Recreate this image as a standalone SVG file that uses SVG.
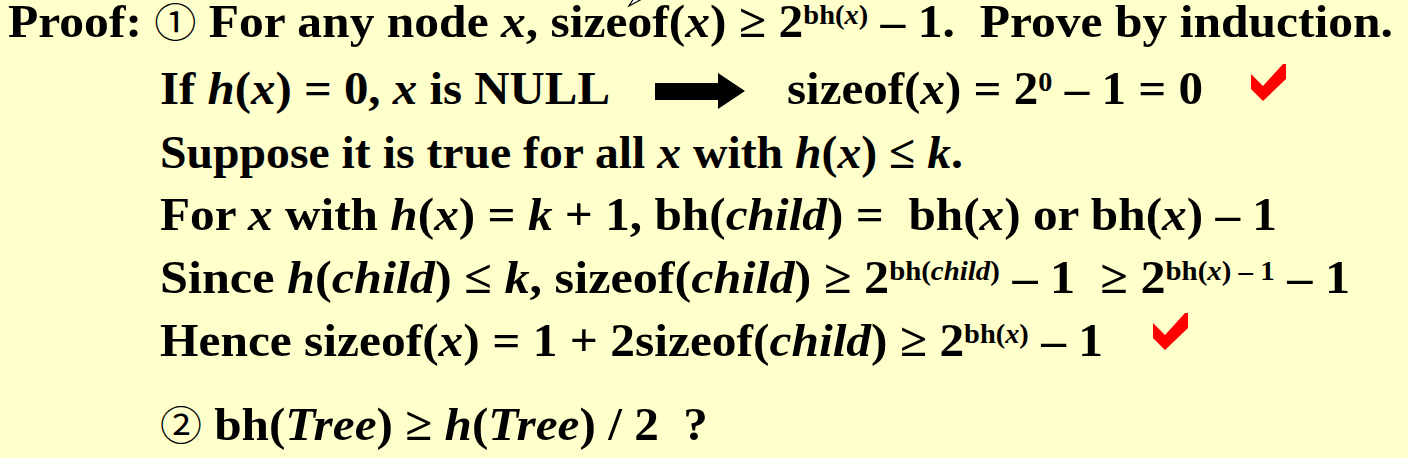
<svg xmlns="http://www.w3.org/2000/svg" width="1408" height="458" viewBox="0 0 1408 458">
<style>
text{font-family:"Liberation Serif","Times New Roman",serif;font-weight:bold;font-size:47px;fill:#000}
.i{font-style:italic}
.s{font-size:27px}
.c{font-family:"Noto Sans CJK SC","DejaVu Sans",sans-serif;font-weight:normal;font-size:40px}
.check{fill:#ff0000}
</style>
<defs>
<polygon id="chk" points="0,10 12,22 32,0 35,0 35,15 12,37 0,25"/>
</defs>
<rect width="1408" height="458" fill="#ffffcc"/>
<g id="callout-tip"><polygon points="629,6 642,-1 636,-5" fill="#fff" stroke="#000" stroke-width="1.2"/></g>
<g id="line1"><text x="8" y="37" xml:space="preserve" textLength="1385" lengthAdjust="spacingAndGlyphs">Proof: <tspan class="c">①</tspan> For any node <tspan class="i">x</tspan>, sizeof(<tspan class="i">x</tspan>) ≥ 2<tspan class="s" dy="-13">bh(<tspan class="i">x</tspan>)</tspan><tspan dy="13"> – 1.  Prove by induction.</tspan></text></g>
<g id="line2a"><text x="160" y="104" xml:space="preserve" textLength="450" lengthAdjust="spacingAndGlyphs">If <tspan class="i">h</tspan>(<tspan class="i">x</tspan>) = 0, <tspan class="i">x</tspan> is NULL</text></g>
<g id="connectors"><polygon points="655,83 718,83 718,73 745,91 718,109 718,100 655,100" fill="#000"/></g>
<g id="line2b"><text x="787" y="104" xml:space="preserve" textLength="416" lengthAdjust="spacingAndGlyphs">sizeof(<tspan class="i">x</tspan>) = 2<tspan class="s" dy="-13">0</tspan><tspan dy="13"> – 1 = 0</tspan></text></g>
<g id="check1" class="check"><use href="#chk" x="1251" y="64"/></g>
<g id="line3"><text x="160" y="168" xml:space="preserve" textLength="803" lengthAdjust="spacingAndGlyphs">Suppose it is true for all <tspan class="i">x</tspan> with <tspan class="i">h</tspan>(<tspan class="i">x</tspan>) ≤ <tspan class="i">k</tspan>.</text></g>
<g id="line4"><text x="160" y="230" xml:space="preserve" textLength="1117" lengthAdjust="spacingAndGlyphs">For <tspan class="i">x</tspan> with <tspan class="i">h</tspan>(<tspan class="i">x</tspan>) = <tspan class="i">k</tspan> + 1, bh(<tspan class="i">child</tspan>) =  bh(<tspan class="i">x</tspan>) or bh(<tspan class="i">x</tspan>) – 1</text></g>
<g id="line5"><text x="160" y="293" xml:space="preserve" textLength="1190" lengthAdjust="spacingAndGlyphs">Since <tspan class="i">h</tspan>(<tspan class="i">child</tspan>) ≤ <tspan class="i">k</tspan>, sizeof(<tspan class="i">child</tspan>) ≥ 2<tspan class="s" dy="-13">bh(<tspan class="i">child</tspan>)</tspan><tspan dy="13"> – 1  ≥ 2</tspan><tspan class="s" dy="-13">bh(<tspan class="i">x</tspan>) – 1</tspan><tspan dy="13"> – 1</tspan></text></g>
<g id="line6"><text x="160" y="356" xml:space="preserve" textLength="943" lengthAdjust="spacingAndGlyphs">Hence sizeof(<tspan class="i">x</tspan>) = 1 + 2sizeof(<tspan class="i">child</tspan>) ≥ 2<tspan class="s" dy="-13">bh(<tspan class="i">x</tspan>)</tspan><tspan dy="13"> – 1</tspan></text></g>
<g id="check2" class="check"><use href="#chk" x="1153" y="313"/></g>
<g id="line7"><text x="160" y="440" xml:space="preserve" textLength="548" lengthAdjust="spacingAndGlyphs"><tspan class="c">②</tspan> bh(<tspan class="i">Tree</tspan>) ≥ <tspan class="i">h</tspan>(<tspan class="i">Tree</tspan>) / 2  ?</text></g>
</svg>
